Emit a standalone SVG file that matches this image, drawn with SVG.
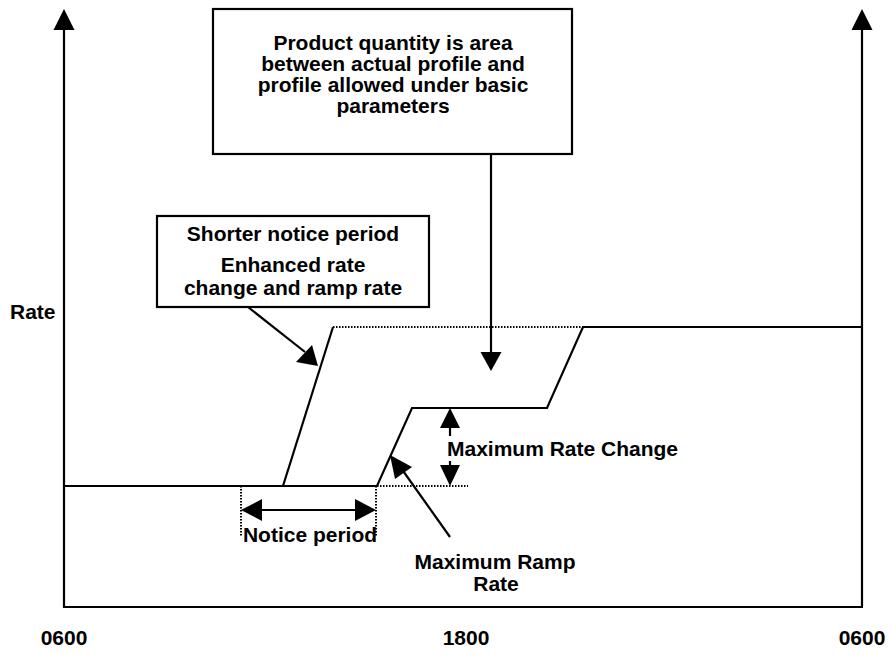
<svg xmlns="http://www.w3.org/2000/svg" width="888" height="657" viewBox="0 0 888 657">
<defs>
<style>
text{font-family:"Liberation Sans",Arial,sans-serif;font-weight:bold;font-size:21px;fill:#000}
.ln{stroke:#000;stroke-width:2.2;fill:none}
.dot{stroke:#000;stroke-width:2;fill:none;stroke-dasharray:1.5 1.5}
.box{stroke:#000;stroke-width:2.2;fill:#fff}
.head{fill:#000;stroke:none}
</style>
</defs>
<rect width="888" height="657" fill="#fff"/>
<g id="axes">
<line class="ln" x1="64" y1="28" x2="64" y2="607"/>
<line class="ln" x1="63" y1="607" x2="863" y2="607"/>
<line class="ln" x1="862" y1="28" x2="862" y2="607"/>
<polygon class="head" points="64,9 53.5,30 74.5,30"/>
<polygon class="head" points="862,9 851.5,30 872.5,30"/>
</g>
<g id="axis-labels">
<text x="10" y="319" font-size="19.5">Rate</text>
<text x="64" y="645" text-anchor="middle" font-size="22">0600</text>
<text x="466" y="645" text-anchor="middle" font-size="22">1800</text>
<text x="862" y="645" text-anchor="middle" font-size="22">0600</text>
</g>
<g id="profiles">
<polyline class="ln" points="64,486 377,486 412,408 547,408 583,327 862,327"/>
<line class="ln" x1="283" y1="486" x2="333" y2="327"/>
<line class="dot" x1="333" y1="327" x2="583" y2="327"/>
<line class="dot" x1="377" y1="486" x2="468" y2="486"/>
<line class="dot" x1="241" y1="486" x2="241" y2="536"/>
<line class="dot" x1="376" y1="486" x2="376" y2="536"/>
</g>
<g id="box-product">
<rect class="box" x="213" y="9" width="359" height="145"/>
<text x="393" y="50" text-anchor="middle">Product quantity is area</text>
<text x="393" y="71" text-anchor="middle">between actual profile and</text>
<text x="393" y="92" text-anchor="middle">profile allowed under basic</text>
<text x="393" y="113" text-anchor="middle">parameters</text>
</g>
<g id="box-shorter">
<rect class="box" x="157" y="216" width="272" height="91"/>
<text x="293" y="241" text-anchor="middle">Shorter notice period</text>
<text x="293" y="272" text-anchor="middle">Enhanced rate</text>
<text x="293" y="295" text-anchor="middle">change and ramp rate</text>
</g>
<g id="labels">
<text x="310" y="542" text-anchor="middle">Notice period</text>
<text x="447" y="456">Maximum Rate Change</text>
<text x="495" y="569" text-anchor="middle">Maximum Ramp</text>
<text x="496" y="591" text-anchor="middle">Rate</text>
</g>
<g id="connectors">
<line class="ln" x1="491" y1="154" x2="491" y2="354"/>
<polygon class="head" points="491,371 480.5,352 501.5,352"/>
<line class="ln" x1="248" y1="307" x2="305" y2="352"/>
<polygon class="head" points="318,366 296,362 312,345"/>
<line class="ln" x1="256" y1="510" x2="361" y2="510"/>
<polygon class="head" points="241,510 262,499 262,521"/>
<polygon class="head" points="376,510 355,499 355,521"/>
<line class="ln" x1="450" y1="425" x2="450" y2="436"/>
<polygon class="head" points="450,408 440,428 460,428"/>
<line class="ln" x1="450" y1="461" x2="450" y2="470"/>
<polygon class="head" points="450,486 440,465 460,465"/>
<line class="ln" x1="450" y1="537" x2="401" y2="468"/>
<polygon class="head" points="390,455 412,467 395,479"/>
</g>
</svg>
